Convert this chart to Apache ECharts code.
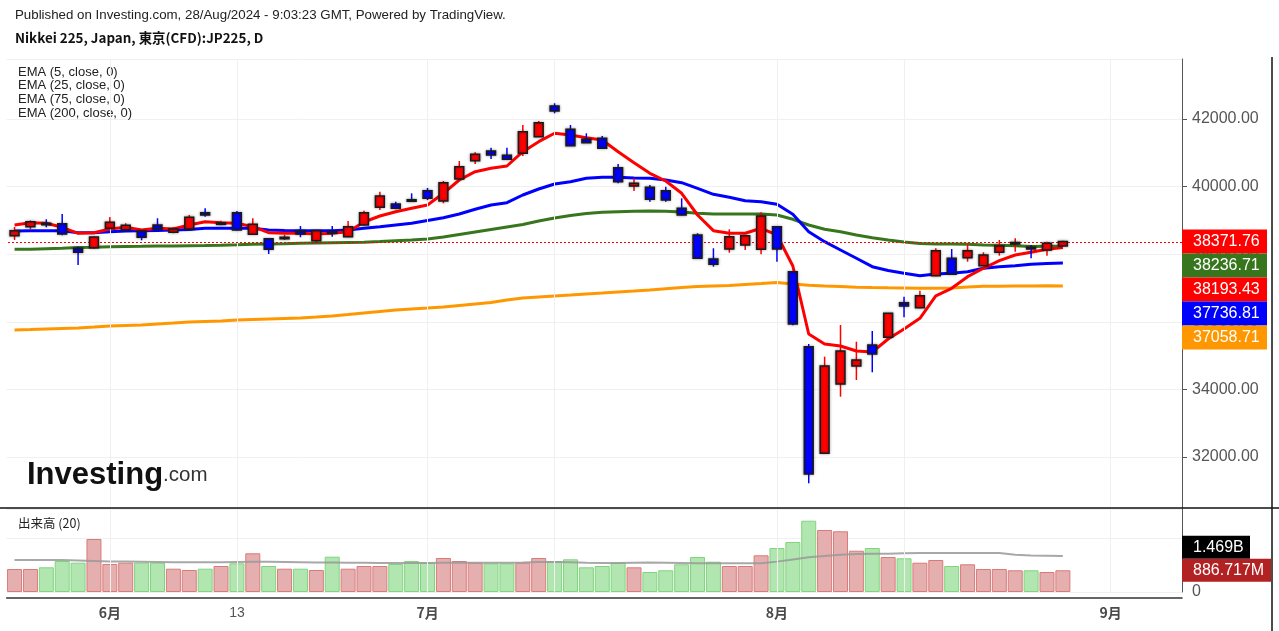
<!DOCTYPE html>
<html><head><meta charset="utf-8">
<script src="https://cdn.jsdelivr.net/npm/echarts@6/dist/echarts.min.js"></script>
<style>html,body{margin:0;padding:0;background:#fff;}#c{width:1279px;height:631px;}</style>
</head><body><div id="c"></div>
<script>
// ---------------- DATA ----------------
const dates = ['2024-05-24','2024-05-27','2024-05-28','2024-05-29','2024-05-30','2024-05-31',
 '2024-06-03','2024-06-04','2024-06-05','2024-06-06','2024-06-07','2024-06-10','2024-06-11','2024-06-12','2024-06-13','2024-06-14',
 '2024-06-17','2024-06-18','2024-06-19','2024-06-20','2024-06-21','2024-06-24','2024-06-25','2024-06-26','2024-06-27','2024-06-28',
 '2024-07-01','2024-07-02','2024-07-03','2024-07-04','2024-07-05','2024-07-08','2024-07-09','2024-07-10','2024-07-11','2024-07-12',
 '2024-07-16','2024-07-17','2024-07-18','2024-07-19','2024-07-22','2024-07-23','2024-07-24','2024-07-25','2024-07-26',
 '2024-07-29','2024-07-30','2024-07-31','2024-08-01','2024-08-02','2024-08-05','2024-08-06','2024-08-07','2024-08-08','2024-08-09',
 '2024-08-13','2024-08-14','2024-08-15','2024-08-16','2024-08-19','2024-08-20','2024-08-21','2024-08-22','2024-08-23',
 '2024-08-26','2024-08-27','2024-08-28'];
const futureDates = ['2024-08-29','2024-08-30','2024-09-02','2024-09-03','2024-09-04','2024-09-05','2024-09-06'];

const opens = [38547,38813,38914,38902,38174,38192,38766,38724,38686,38863,
 38648,38745,39228,38900,39228,38588,38459,38470,38695,38399,
 38665,38518,38863,39387,39485,39610,39878,39574,40225,40766,
 41053,40926,40985,41476,42385,41695,41399,41429,40559,40017,
 39979,39878,39358,38568,37857,38153,38272,38144,38813,37482,
 35262,32108,34159,34691,35313,35541,36564,36416,37363,37878,
 37896,37659,38056,38322,38204,38124,38242];
const closes = [38695,38961,38872,38597,38056,38508,38943,38855,38500,38736,
 38745,39091,39159,38925,38716,38884,38145,38500,38597,38695,
 38618,38813,39228,39722,39358,39595,39653,40115,40589,40955,
 40935,40808,41624,41891,42237,41210,41299,41133,40145,40097,
 39624,39603,39159,37878,37701,38517,38547,39130,38153,35934,
 31496,34691,35135,34869,35047,36250,36466,36771,38103,37405,
 38103,37975,38242,38345,38153,38322,38371.76];
const lows = [38420,38745,38795,38560,37680,38153,38740,38700,38410,38686,
 38620,38740,39109,38855,38700,38580,38005,38420,38500,38322,
 38518,38500,38850,39307,39330,39550,39600,39505,40195,40668,
 40816,40800,40905,41470,42169,41200,41290,41120,40100,39870,
 39553,39553,39150,37870,37630,38044,38124,37996,37777,35900,
 31220,32100,33783,34277,34505,35530,36133,36400,37350,37390,
 37777,37640,37955,38075,37878,37955,38230];
const highs = [38804,38997,39032,39189,38213,38520,39100,38914,38700,39062,
 38804,39159,39358,38990,39278,39062,38470,38568,38834,38710,
 38834,38982,39287,39849,39553,39800,39960,40165,40757,41015,
 41151,41151,41822,41941,42465,41822,41577,41497,40668,40245,
 40047,39997,39653,38618,38174,38736,38560,39239,38830,37500,
 35342,34967,35904,35410,35727,36260,36742,36919,38174,38153,
 38292,38056,38420,38470,38272,38370,38400];

const ema5 = [38864,38932,38914,38795,38618,38636,38745,38795,38716,38766,
 38745,38864,38961,38932,38914,38813,38636,38618,38618,38597,
 38618,38665,38952,39130,39257,39358,39455,39801,40195,40441,
 40541,40609,41032,41328,41577,41527,41447,41379,41032,40707,
 40393,40165,39801,39159,38695,38618,38618,38766,38568,37650,
 35638,35342,35283,35135,35106,35490,35786,36103,36763,36990,
 37334,37582,37807,37976,38056,38144,38193.43];
const ema25 = [38686,38695,38695,38695,38636,38636,38665,38686,38695,38701,
 38716,38730,38766,38766,38766,38766,38716,38701,38695,38695,
 38695,38716,38766,38813,38864,38914,38997,39080,39189,39328,
 39455,39523,39751,39929,40077,40145,40245,40275,40275,40254,
 40245,40195,40115,39949,39772,39683,39583,39553,39476,39180,
 38665,38369,38124,37878,37630,37517,37434,37363,37414,37434,
 37482,37582,37630,37659,37701,37724,37736.81];
const ema75 = [38144,38144,38162,38174,38198,38204,38221,38227,38233,38242,
 38242,38251,38257,38266,38278,38292,38301,38310,38322,38331,
 38340,38346,38352,38375,38399,38420,38450,38508,38582,38656,
 38730,38804,38878,38982,39071,39145,39204,39239,39257,39269,
 39278,39269,39248,39210,39189,39189,39189,39189,39159,39032,
 38864,38736,38665,38568,38488,38420,38360,38316,38301,38301,
 38292,38272,38263,38251,38227,38233,38236.71];
const ema200 = [35757,35771,35786,35801,35816,35845,35875,35890,35904,35934,
 35963,35993,36008,36023,36052,36067,36082,36097,36112,36141,
 36171,36215,36260,36304,36348,36378,36407,36437,36481,36526,
 36570,36644,36703,36733,36763,36792,36822,36851,36881,36910,
 36940,36979,37014,37044,37059,37073,37103,37132,37162,37118,
 37079,37059,37044,37023,37011,37005,37000,36993,36993,37000,
 37029,37049,37053,37059,37059,37064,37058.71];

// volume in millions
const volumes = [939,939,1008,1265,1196,2163,1143,1196,1196,1196,
 951,898,951,1061,1171,1580,1061,951,951,898,
 1441,951,1061,1061,1143,1265,1196,1388,1265,1196,
 1171,1171,1196,1388,1265,1335,1008,1061,1196,1008,
 816,886,1131,1429,1237,1061,1061,1498,1796,2041,
 2910,2531,2478,1686,1796,1429,1376,1196,1306,1061,
 1131,939,939,886,886,816,886.717];
const volumeMA = [1306,1306,1306,1306,1290,1270,1250,1240,1230,1220,
 1210,1210,1210,1210,1220,1230,1230,1220,1210,1200,
 1200,1190,1190,1180,1180,1180,1180,1190,1190,1190,
 1190,1190,1200,1220,1220,1210,1190,1180,1180,1190,
 1200,1190,1180,1170,1170,1170,1170,1170,1240,1330,
 1420,1470,1520,1550,1560,1560,1580,1590,1590,1590,
 1590,1590,1590,1520,1490,1480,1469];

const tickDates  = ['2024-06-03','2024-06-13','2024-07-01','2024-07-11','2024-08-01','2024-08-14','2024-09-02'];
const tickLabels = ['6月','13','7月','','8月','','9月'];
const tickBold   = [true,false,true,false,true,false,true];

const emaLegend = ['EMA (5, close, 0)','EMA (25, close, 0)','EMA (75, close, 0)','EMA (200, close, 0)'];
const headerLine1 = 'Published on Investing.com, 28/Aug/2024 - 9:03:23 GMT, Powered by TradingView.';
const headerLine2 = 'Nikkei 225, Japan, 東京(CFD):JP225, D';
const volumeTitle = '出来高 (20)';

// ---------------- CHART ----------------
const N = dates.length;
const categories = dates.concat(futureDates);
const candleData = dates.map((d, i) => [i, opens[i], closes[i], lows[i], highs[i]]);
const UP = '#ff0000', DOWN = '#0000ff';
const C_EMA5 = '#ff0000', C_EMA25 = '#0000ff', C_EMA75 = '#38761d', C_EMA200 = '#ff9800';
const AX = '#555555';
const GRIDC = '#f0f0f0';
const LEFT = 6.6, RIGHT = 97;

function renderCandle(params, api) {
  const idx = api.value(0);
  const o = api.value(1), c = api.value(2), l = api.value(3), h = api.value(4);
  const pO = api.coord([idx, o]), pC = api.coord([idx, c]);
  const pL = api.coord([idx, l]), pH = api.coord([idx, h]);
  const x = pO[0];
  const bw = api.size([1, 0])[0] * 0.56;
  const col = c >= o ? UP : DOWN;
  const top = Math.min(pO[1], pC[1]);
  const ht = Math.max(Math.abs(pO[1] - pC[1]), 1.5);
  return {
    type: 'group',
    children: [
      { type: 'line', shape: { x1: x, y1: pH[1], x2: x, y2: pL[1] }, style: { stroke: col, lineWidth: 1.5 } },
      { type: 'rect', shape: { x: x - bw / 2, y: top, width: bw, height: ht },
        style: { fill: col, stroke: '#1a1a1a', lineWidth: 1.5, shadowBlur: 3, shadowColor: 'rgba(0,0,0,0.4)' } }
    ]
  };
}

const tickIdx = tickDates.map(d => categories.indexOf(d));
const vGridLines = tickDates.map(d => ({ xAxis: d }));

const volData = volumes.map((v, i) => ({
  value: v,
  itemStyle: closes[i] >= opens[i]
    ? { color: '#e6afaf', borderColor: '#d97a7a', borderWidth: 1 }
    : { color: '#b1e6b0', borderColor: '#80d47e', borderWidth: 1 }
}));

function lineSeries(name, data, color, z) {
  return { name, type: 'line', xAxisIndex: 0, yAxisIndex: 0, data, symbol: 'none', z,
    lineStyle: { color, width: 3 }, itemStyle: { color }, silent: true, animation: false };
}

const chart = echarts.init(document.getElementById('c'), null, { renderer: 'canvas', width: 1279, height: 631 });

chart.setOption({
  animation: false,
  backgroundColor: '#ffffff',
  grid: [
    { left: LEFT, right: RIGHT, top: 59, bottom: 631 - 508 },
    { left: LEFT, right: RIGHT, top: 509, bottom: 631 - 592 }
  ],
  xAxis: [
    { type: 'category', gridIndex: 0, data: categories, boundaryGap: true, show: false },
    { type: 'category', gridIndex: 1, data: categories, boundaryGap: true, offset: 6,
      axisLine: { onZero: false, lineStyle: { color: '#333', width: 1.5 } },
      axisTick: { alignWithLabel: true, length: 5, interval: (i) => tickIdx.includes(i), lineStyle: { color: '#333' } },
      axisLabel: {
        interval: (i) => tickIdx.includes(i), margin: 8,
        formatter: (val) => {
          const k = tickDates.indexOf(val);
          if (k < 0 || !tickLabels[k]) return '';
          return tickBold[k] ? '{b|' + tickLabels[k] + '}' : '{n|' + tickLabels[k] + '}';
        },
        rich: {
          b: { fontFamily: 'Noto Sans CJK JP', fontWeight: 'bold', fontSize: 14, color: '#4a4a4a' },
          n: { fontFamily: 'Liberation Sans', fontSize: 14, color: '#555' }
        }
      },
      splitLine: { show: false }
    }
  ],
  yAxis: [
    { type: 'value', gridIndex: 0, position: 'right', min: 30489, max: 43775, minInterval: 2000, maxInterval: 2000,
      axisLine: { show: true, lineStyle: { color: AX, width: 1 } },
      axisTick: { show: true, length: 5, lineStyle: { color: AX } },
      axisLabel: { showMinLabel: false, showMaxLabel: false, margin: 10, color: AX,
        fontFamily: 'Liberation Sans', fontSize: 16, formatter: (v) => v.toFixed(2) },
      splitLine: { show: true, lineStyle: { color: GRIDC, width: 1 } } },
    { type: 'value', gridIndex: 1, position: 'right', min: 0, max: 3388, minInterval: 2200, maxInterval: 2200,
      axisLine: { show: true, lineStyle: { color: AX, width: 1 } },
      axisTick: { show: false },
      axisLabel: { showMaxLabel: false, margin: 10, color: AX, fontFamily: 'Liberation Sans', fontSize: 16,
        formatter: (v) => (v === 0 ? '0' : '') },
      splitLine: { show: true, lineStyle: { color: GRIDC, width: 1 } } }
  ],
  series: [
    { name: 'vgrid0', type: 'line', xAxisIndex: 0, yAxisIndex: 0, data: [], z: 0, silent: true,
      markLine: { silent: true, symbol: 'none', label: { show: false }, animation: false,
        lineStyle: { color: GRIDC, width: 1, type: 'solid' }, data: vGridLines } },
    { name: 'vgrid1', type: 'line', xAxisIndex: 1, yAxisIndex: 1, data: [], z: 0, silent: true,
      markLine: { silent: true, symbol: 'none', label: { show: false }, animation: false,
        lineStyle: { color: GRIDC, width: 1, type: 'solid' }, data: vGridLines } },
    lineSeries('EMA200', ema200, C_EMA200, 2),
    lineSeries('EMA75', ema75, C_EMA75, 3),
    lineSeries('EMA25', ema25, C_EMA25, 3),
    lineSeries('EMA5', ema5, C_EMA5, 4),
    { name: 'candles', type: 'custom', xAxisIndex: 0, yAxisIndex: 0, data: candleData, z: 6,
      encode: { x: 0, y: [1, 2, 3, 4] }, renderItem: renderCandle, silent: true, animation: false },
    { name: 'volume', type: 'bar', xAxisIndex: 1, yAxisIndex: 1, data: volData, barWidth: 15, silent: true, z: 2 },
    { name: 'volumeMA', type: 'line', xAxisIndex: 1, yAxisIndex: 1, data: volumeMA, symbol: 'none', silent: true, z: 3,
      lineStyle: { color: '#999999', width: 2, opacity: 0.85 } }
  ]
});

// ---------------- TEXT / BADGES ----------------
const AXIS_X = 1182;
const PLOT_X0 = 8;
function badge(cy, text, bg, w, h) {
  return {
    type: 'group', z: 100,
    children: [
      { type: 'rect', shape: { x: AXIS_X, y: cy - h / 2, width: w, height: h }, style: { fill: bg }, z: 100 },
      { type: 'text', x: AXIS_X + 11, y: cy, z: 101,
        style: { text, fill: '#ffffff', font: '16px "Liberation Sans"', verticalAlign: 'middle', align: 'left' } }
    ]
  };
}

const priceBadges = [
  { v: closes[N - 1], bg: UP },
  { v: ema75[N - 1], bg: C_EMA75 },
  { v: ema5[N - 1], bg: C_EMA5 },
  { v: ema25[N - 1], bg: C_EMA25 },
  { v: ema200[N - 1], bg: C_EMA200 }
];
priceBadges.forEach(b => { b.y = chart.convertToPixel({ yAxisIndex: 0 }, b.v); });
priceBadges.sort((a, b) => a.y - b.y);
let prev = -1e9;
priceBadges.forEach(b => { b.cy = Math.max(b.y, prev + 24); prev = b.cy; });

const lastPriceY = Math.round(chart.convertToPixel({ yAxisIndex: 0 }, closes[N - 1])) + 0.5;

function fmtVol(v) { return v >= 1000 ? (v / 1000).toFixed(3) + 'B' : v.toFixed(3) + 'M'; }
const lastVol = volumes[N - 1], lastMA = volumeMA[N - 1];
const vLastY = chart.convertToPixel({ yAxisIndex: 1 }, lastVol);
const vMAY = Math.min(chart.convertToPixel({ yAxisIndex: 1 }, lastMA), vLastY - 23);

const elements = [
  { type: 'text', left: 15, top: 9, style: { text: headerLine1, font: '13.3px "Liberation Sans"', fill: '#222' } },
  { type: 'text', left: 15, top: 31, style: { text: headerLine2, font: 'bold 13.4px "Noto Sans CJK JP"', fill: '#111' } },
  ...emaLegend.map((t, k) => ({ type: 'text', left: 18, top: 65.5 + k * 13.7,
    style: { text: t, font: '13px "Liberation Sans"', fill: '#222' } })),
  { type: 'text', left: 18, top: 517, style: { text: volumeTitle, font: '12.5px "Noto Sans CJK JP"', fill: '#222' } },
  { type: 'text', left: 27, top: 460, z: 50,
    style: { text: '{a|Investing}{b|.com}',
      rich: { a: { font: 'bold 31px "Liberation Sans"', fill: '#111' }, b: { font: '20.5px "Liberation Sans"', fill: '#333' } } } },
  { type: 'line', z: 5, silent: true, shape: { x1: PLOT_X0, y1: lastPriceY, x2: AXIS_X, y2: lastPriceY },
    style: { stroke: '#ff0000', lineWidth: 1, lineDash: [2, 2] } },
  { type: 'line', z: 90, shape: { x1: 0, y1: 508, x2: 1279, y2: 508 }, style: { stroke: '#111', lineWidth: 1.5 } },
  { type: 'line', z: 90, shape: { x1: 1272, y1: 57, x2: 1272, y2: 631 }, style: { stroke: '#111', lineWidth: 1.5 } },
  ...priceBadges.map(b => badge(b.cy, b.v.toFixed(2), b.bg, 85, 24)),
  badge(vMAY, fmtVol(lastMA), '#000000', 68, 23),
  badge(vLastY, fmtVol(lastVol), '#b22222', 89, 23)
];
chart.setOption({ graphic: { elements } });
</script>
</body></html>
